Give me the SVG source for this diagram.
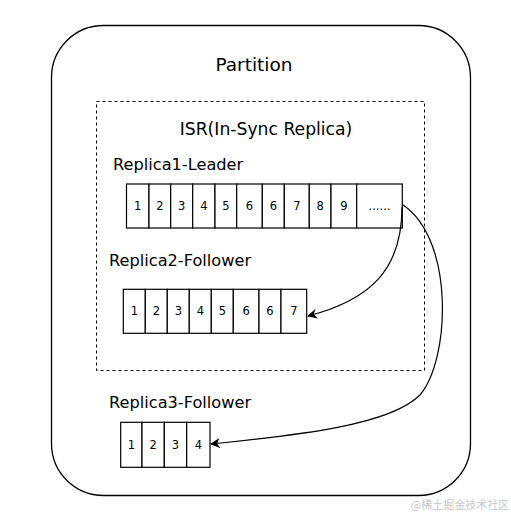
<svg xmlns="http://www.w3.org/2000/svg" width="511" height="522" viewBox="0 0 511 522">
<defs>
<style>
.cell{fill:#fff;stroke:#000;stroke-width:1.2}
.num{font-family:"DejaVu Sans",Verdana,sans-serif;font-size:11.5px;fill:#000;text-anchor:middle}
.lbl{font-family:"DejaVu Sans",Verdana,sans-serif;font-size:16.2px;fill:#000}
.conn{fill:none;stroke:#000;stroke-width:1.2}
</style>
<marker id="arr" markerWidth="10" markerHeight="10" refX="9" refY="5" orient="auto" markerUnits="userSpaceOnUse">
<path d="M0,0 L10,5 L0,10 L3,5 Z" fill="#000"/>
</marker>
</defs>
<rect width="511" height="522" fill="#fff"/>
<g id="partition">
<rect x="51.5" y="25.5" width="419" height="470" rx="52" ry="52" fill="#fff" stroke="#000" stroke-width="1.3"/>
<text x="254" y="71" class="lbl" style="font-size:18.5px" text-anchor="middle">Partition</text>
</g>
<g id="isr">
<rect x="96.5" y="101.5" width="328" height="269" fill="none" stroke="#000" stroke-width="1" stroke-dasharray="3,3"/>
<text x="266" y="135" class="lbl" style="font-size:17.2px" text-anchor="middle">ISR(In-Sync Replica)</text>
</g>
<g id="replica1">
<text x="113" y="170" class="lbl">Replica1-Leader</text>
<rect class="cell" x="126.5" y="184" width="22.5" height="44"/>
<rect class="cell" x="149" y="184" width="21.7" height="44"/>
<rect class="cell" x="170.7" y="184" width="22" height="44"/>
<rect class="cell" x="192.7" y="184" width="22.3" height="44"/>
<rect class="cell" x="215" y="184" width="21.7" height="44"/>
<rect class="cell" x="236.7" y="184" width="25.6" height="44"/>
<rect class="cell" x="262.3" y="184" width="22" height="44"/>
<rect class="cell" x="284.3" y="184" width="25" height="44"/>
<rect class="cell" x="309.3" y="184" width="21.7" height="44"/>
<rect class="cell" x="331" y="184" width="25.7" height="44"/>
<rect class="cell" x="356.7" y="184" width="45.6" height="44"/>
<text class="num" x="137.7" y="210">1</text>
<text class="num" x="159.8" y="210">2</text>
<text class="num" x="181.7" y="210">3</text>
<text class="num" x="203.8" y="210">4</text>
<text class="num" x="225.8" y="210">5</text>
<text class="num" x="249.5" y="210">6</text>
<text class="num" x="273.3" y="210">6</text>
<text class="num" x="296.8" y="210">7</text>
<text class="num" x="320.1" y="210">8</text>
<text class="num" x="343.8" y="210">9</text>
<text class="num" x="379.5" y="210">......</text>
</g>
<g id="replica2">
<text x="109" y="266" class="lbl">Replica2-Follower</text>
<rect class="cell" x="123.3" y="289.3" width="22" height="44"/>
<rect class="cell" x="145.3" y="289.3" width="22" height="44"/>
<rect class="cell" x="167.3" y="289.3" width="22" height="44"/>
<rect class="cell" x="189.3" y="289.3" width="22" height="44"/>
<rect class="cell" x="211.3" y="289.3" width="22" height="44"/>
<rect class="cell" x="233.3" y="289.3" width="25.7" height="44"/>
<rect class="cell" x="259" y="289.3" width="22" height="44"/>
<rect class="cell" x="281" y="289.3" width="25.7" height="44"/>
<text class="num" x="134.3" y="315">1</text>
<text class="num" x="156.3" y="315">2</text>
<text class="num" x="178.3" y="315">3</text>
<text class="num" x="200.3" y="315">4</text>
<text class="num" x="222.3" y="315">5</text>
<text class="num" x="246.2" y="315">6</text>
<text class="num" x="270" y="315">6</text>
<text class="num" x="293.8" y="315">7</text>
</g>
<g id="replica3">
<text x="109" y="408" class="lbl">Replica3-Follower</text>
<rect class="cell" x="120.7" y="422.3" width="21.3" height="45"/>
<rect class="cell" x="142" y="422.3" width="22.3" height="45"/>
<rect class="cell" x="164.3" y="422.3" width="22.4" height="45"/>
<rect class="cell" x="186.7" y="422.3" width="23.3" height="45"/>
<text class="num" x="131.3" y="449">1</text>
<text class="num" x="153.2" y="449">2</text>
<text class="num" x="175.5" y="449">3</text>
<text class="num" x="198.3" y="449">4</text>
</g>
<g id="connectors">
<path class="conn" d="M402,207 C402,270 370,300 308,316" marker-end="url(#arr)"/>
<path class="conn" d="M403,205 C455,240 450,360 420,395 C390,425 300,435 211,444" marker-end="url(#arr)"/>
</g>
<text x="460" y="509" text-anchor="middle" style="font-family:'Noto Sans CJK SC',sans-serif;font-size:11px;fill:#c8c8c8">@稀土掘金技术社区</text>
</svg>
